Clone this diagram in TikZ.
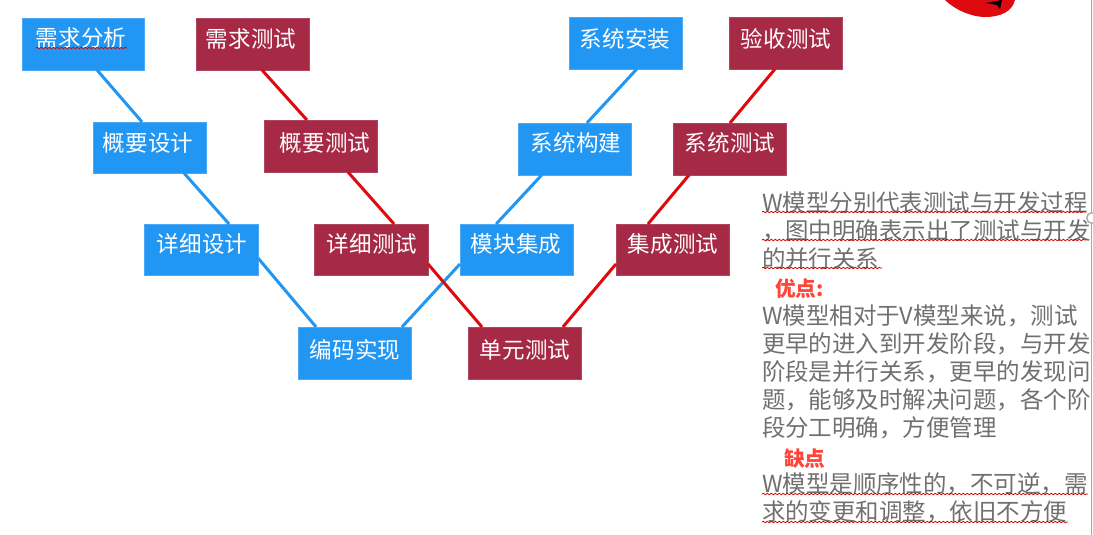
\documentclass[tikz,border=0pt]{standalone}
\usepackage{fontspec}
\setmainfont{Noto Sans CJK SC}
\usetikzlibrary{calc,decorations.pathmorphing}
\newdimen\pxu \pxu=.75pt
\definecolor{vblue}{HTML}{2196F3}
\definecolor{vblueedge}{HTML}{4DA9F5}
\definecolor{vcrim}{HTML}{A62A45}
\definecolor{vcrimedge}{HTML}{B04560}
\definecolor{vred}{HTML}{DD0A0F}
\definecolor{vgray}{HTML}{707070}
\definecolor{vhead}{HTML}{FF4538}
\tikzset{
  devbox/.style={fill=vblue,draw=vblueedge,line width=.4pt,inner sep=0pt,outer sep=0pt,text=white,font=\fontsize{16.9pt}{16.9pt}\selectfont},
  testbox/.style={fill=vcrim,draw=vcrimedge,line width=.4pt,inner sep=0pt,outer sep=0pt,text=white,font=\fontsize{16.9pt}{16.9pt}\selectfont},
  devline/.style={draw=vblue,line width=2.25pt},
  testline/.style={draw=vred,line width=2.25pt},
  note/.style={anchor=west,inner sep=0pt,outer sep=0pt,text=vgray,font=\fontsize{17.6pt}{17.6pt}\selectfont,text height=.88em,text depth=.12em},
  notehead/.style={anchor=west,inner sep=0pt,outer sep=0pt,text=vhead,font=\fontsize{15.5pt}{15.5pt}\selectfont\bfseries,text height=.88em,text depth=.12em},
  squig/.style={draw=red!85!black,line width=.6pt,decorate,decoration={snake,amplitude=.55pt,segment length=3pt}}
}
\newcommand{\vnode}[9]{%
  \node[#2,minimum width=#5\pxu,minimum height=#6\pxu] (#1) at (#3,#4)
    {\raisebox{\dimexpr-#8\pxu-.38em\relax}[0pt][0pt]{\makebox[0pt][c]{\hspace*{\dimexpr2\dimexpr#7\pxu\relax\relax}#9}}};}
\newcommand{\ptS}[2]{($(#1.south west)!#2!(#1.south east)$)}
\newcommand{\ptN}[2]{($(#1.north west)!#2!(#1.north east)$)}
\newcommand{\ptE}[2]{($(#1.north east)!#2!(#1.south east)$)}
\newcommand{\ptW}[2]{($(#1.north west)!#2!(#1.south west)$)}
\begin{document}
\begin{tikzpicture}[x=.75pt,y=-.75pt]
\useasboundingbox (0,0) rectangle (1093,535);
\clip (0,0) rectangle (1093,535);
\fill[white] (0,0) rectangle (1093,535);
% top-right shape
\fill[vred] (945,0) .. controls (955,10) and (972,17) .. (985,17)
   .. controls (1000,17) and (1012,12) .. (1015,0) -- cycle;
\fill[black] (986,3) -- (1002,0) -- (1000,9) -- (997,5) -- cycle;
\draw[gray!70,line width=.75pt] (1091,0) -- (1091,535);
\draw[gray!70,fill=white,line width=1pt] (1092,218) circle (4pt);
% boxes
\vnode{a1}{devbox}{83}{44}{122}{52}{-2}{-6}{需求分析}
\vnode{a2}{devbox}{149.5}{147.5}{113}{51}{-1.5}{-4.5}{概要设计}
\vnode{a3}{devbox}{201}{249.5}{114}{51}{1}{-5.5}{详细设计}
\vnode{a4}{devbox}{354.5}{353}{113}{52}{.5}{-3}{编码实现}
\vnode{a5}{devbox}{516.5}{249.5}{113}{51}{-.5}{-5.5}{模块集成}
\vnode{a6}{devbox}{574.5}{149}{113}{52}{1.5}{-6}{系统构建}
\vnode{a7}{devbox}{625.5}{43}{113}{52}{-.5}{-4}{系统安装}
\vnode{b1}{testbox}{252.5}{44}{113}{52}{-1.5}{-5}{需求测试}
\vnode{b2}{testbox}{320.5}{146}{113}{52}{4.5}{-3}{概要测试}
\vnode{b3}{testbox}{371}{249.5}{114}{51}{1}{-5.5}{详细测试}
\vnode{b4}{testbox}{524.5}{353}{113}{52}{.5}{-3}{单元测试}
\vnode{b5}{testbox}{672.5}{249.5}{113}{51}{.5}{-5.5}{集成测试}
\vnode{b6}{testbox}{729.5}{149}{113}{52}{.5}{-6}{系统测试}
\vnode{b7}{testbox}{785.5}{43}{113}{52}{.5}{-4}{验收测试}
% connectors
\draw[devline] \ptS{a1}{.615} -- \ptN{a2}{.434};
\draw[devline] \ptS{a2}{.805} -- \ptN{a3}{.746};
\draw[devline] \ptE{a3}{.667} -- \ptN{a4}{.16};
\draw[devline] \ptN{a4}{.92} -- \ptW{a5}{.784};
\draw[devline] \ptN{a5}{.32} -- \ptS{a6}{.21};
\draw[devline] \ptN{a6}{.61} -- \ptS{a7}{.60};
\draw[testline] \ptS{b1}{.584} -- \ptN{b2}{.38};
\draw[testline] \ptS{b2}{.743} -- \ptN{b3}{.702};
\draw[testline] \ptE{b3}{.784} -- \ptN{b4}{.124};
\draw[testline] \ptN{b4}{.84} -- \ptW{b5}{.784};
\draw[testline] \ptN{b5}{.283} -- \ptS{b6}{.142};
\draw[testline] \ptN{b6}{.504} -- \ptS{b7}{.407};
% note
\node[note] (n1) at (762,206) {W模型分别代表测试与开发过程};
\node[note] (n2) at (762,234) {，图中明确表示出了测试与开发};
\node[note] (n3) at (762,262) {的并行关系};
\node[notehead] (h1) at (775,291) {优点:};
\node[note] (n4) at (762,319) {W模型相对于V模型来说，测试};
\node[note] (n5) at (762,347) {更早的进入到开发阶段，与开发};
\node[note] (n6) at (762,375) {阶段是并行关系，更早的发现问};
\node[note] (n7) at (762,403) {题，能够及时解决问题，各个阶};
\node[note] (n8) at (762,431) {段分工明确，方便管理};
\node[notehead] (h2) at (784,461) {缺点};
\node[note] (n9) at (762,487) {W模型是顺序性的，不可逆，需};
\node[note] (n10) at (762,515) {求的变更和调整，依旧不方便};
% spell-check underlines
\draw[squig] (36,48) -- (127,48);
\draw[squig] (762,212) -- (1086,212);
\draw[squig] (762,240) -- (1086,240);
\draw[squig] (762,268) -- (882,268);
\draw[squig] (762,494) -- (1088,494);
\draw[squig] (762,522) -- (1068,522);
\end{tikzpicture}
\end{document}
